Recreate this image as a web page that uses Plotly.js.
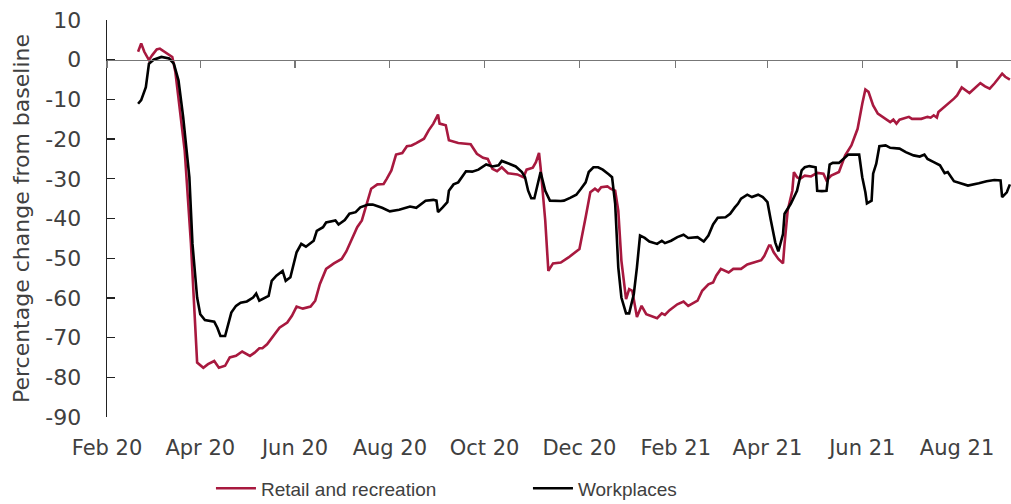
<!DOCTYPE html>
<html>
<head>
<meta charset="utf-8">
<script src="https://cdn.plot.ly/plotly-3.0.1.min.js"></script>
<style>
html,body{margin:0;padding:0;background:#fff;}
#chart{width:1011px;height:504px;}
</style>
</head>
<body>
<div id="chart"></div>
<script>
// ---- Data ----
const retailDates = ['2020-02-21','2020-02-23','2020-02-25','2020-02-28','2020-03-01','2020-03-04','2020-03-06','2020-03-09','2020-03-12','2020-03-14','2020-03-16','2020-03-19','2020-03-22','2020-03-26','2020-03-28','2020-03-30','2020-04-03','2020-04-06','2020-04-10','2020-04-13','2020-04-17','2020-04-20','2020-04-24','2020-04-28','2020-05-03','2020-05-06','2020-05-09','2020-05-11','2020-05-14','2020-05-18','2020-05-22','2020-05-27','2020-05-30','2020-06-02','2020-06-06','2020-06-11','2020-06-14','2020-06-17','2020-06-21','2020-06-26','2020-07-01','2020-07-04','2020-07-08','2020-07-11','2020-07-14','2020-07-17','2020-07-20','2020-07-24','2020-07-28','2020-07-30','2020-08-02','2020-08-05','2020-08-09','2020-08-12','2020-08-15','2020-08-18','2020-08-23','2020-08-26','2020-08-29','2020-09-01','2020-09-02','2020-09-06','2020-09-08','2020-09-14','2020-09-22','2020-09-26','2020-09-30','2020-10-03','2020-10-06','2020-10-09','2020-10-12','2020-10-16','2020-10-22','2020-10-26','2020-10-28','2020-11-01','2020-11-03','2020-11-05','2020-11-06','2020-11-09','2020-11-11','2020-11-14','2020-11-19','2020-11-24','2020-11-28','2020-12-01','2020-12-05','2020-12-08','2020-12-11','2020-12-13','2020-12-15','2020-12-19','2020-12-21','2020-12-24','2020-12-26','2020-12-28','2020-12-31','2021-01-02','2021-01-04','2021-01-06','2021-01-07','2021-01-10','2021-01-13','2021-01-20','2021-01-23','2021-01-25','2021-01-28','2021-02-02','2021-02-06','2021-02-09','2021-02-15','2021-02-18','2021-02-22','2021-02-25','2021-02-27','2021-03-02','2021-03-07','2021-03-10','2021-03-15','2021-03-19','2021-03-23','2021-03-28','2021-03-30','2021-04-02','2021-04-03','2021-04-05','2021-04-08','2021-04-11','2021-04-12','2021-04-14','2021-04-17','2021-04-18','2021-04-20','2021-04-22','2021-04-25','2021-04-29','2021-05-03','2021-05-07','2021-05-09','2021-05-12','2021-05-17','2021-05-21','2021-05-25','2021-05-29','2021-06-01','2021-06-03','2021-06-05','2021-06-08','2021-06-11','2021-06-16','2021-06-19','2021-06-21','2021-06-23','2021-06-25','2021-07-01','2021-07-03','2021-07-09','2021-07-13','2021-07-15','2021-07-17','2021-07-19','2021-07-20','2021-07-24','2021-07-30','2021-08-01','2021-08-04','2021-08-09','2021-08-16','2021-08-19','2021-08-22','2021-08-25','2021-08-30','2021-09-01','2021-09-04'];
const retailValues = [2.0,4.1,2.0,-0.1,1.1,2.6,2.8,2.0,1.1,0.7,-3.1,-12.8,-22.9,-46.3,-63.3,-76.3,-77.6,-76.7,-75.9,-77.6,-77.1,-75.0,-74.6,-73.5,-74.6,-73.8,-72.7,-72.7,-71.7,-69.6,-67.5,-66.2,-64.5,-62.2,-62.7,-62.2,-60.7,-56.5,-52.7,-51.3,-50.2,-48.3,-44.7,-42.2,-40.5,-36.3,-32.5,-31.4,-31.3,-30.0,-27.9,-23.9,-23.5,-21.8,-21.6,-21.0,-19.9,-17.8,-16.1,-13.8,-16.1,-16.5,-20.3,-21.0,-21.3,-23.7,-24.7,-25.0,-27.5,-28.1,-27.1,-28.6,-28.9,-29.6,-27.7,-27.2,-25.8,-23.5,-27.1,-40.5,-53.2,-51.3,-51.1,-49.8,-48.5,-47.7,-39.7,-33.4,-32.5,-33.1,-32.1,-31.9,-32.5,-33.0,-38.0,-50.6,-60.3,-57.8,-58.2,-63.3,-64.8,-62.0,-64.1,-65.1,-63.9,-64.3,-63.1,-61.6,-60.9,-62.0,-60.7,-58.2,-56.6,-56.1,-54.4,-52.7,-53.6,-52.7,-52.7,-51.6,-51.1,-50.5,-49.4,-46.8,-46.8,-48.5,-50.2,-51.3,-46.4,-38.0,-33.0,-28.3,-29.6,-30.0,-29.2,-29.4,-28.5,-28.7,-30.4,-29.2,-28.3,-24.1,-21.6,-17.4,-11.1,-7.5,-8.1,-11.5,-13.6,-14.9,-15.7,-15.1,-16.1,-15.1,-14.4,-14.9,-14.9,-14.4,-14.6,-14.0,-14.6,-13.2,-11.9,-9.8,-9.0,-7.0,-8.4,-5.9,-6.7,-7.3,-6.0,-3.5,-4.3,-5.0];

const workDates = ['2020-02-21','2020-02-23','2020-02-26','2020-02-28','2020-03-02','2020-03-07','2020-03-12','2020-03-15','2020-03-18','2020-03-21','2020-03-25','2020-03-27','2020-03-30','2020-04-01','2020-04-04','2020-04-10','2020-04-12','2020-04-14','2020-04-17','2020-04-21','2020-04-24','2020-04-27','2020-05-01','2020-05-05','2020-05-07','2020-05-09','2020-05-15','2020-05-17','2020-05-20','2020-05-24','2020-05-26','2020-05-29','2020-06-02','2020-06-05','2020-06-08','2020-06-13','2020-06-15','2020-06-19','2020-06-21','2020-06-27','2020-06-29','2020-07-03','2020-07-06','2020-07-10','2020-07-13','2020-07-18','2020-07-21','2020-07-27','2020-08-01','2020-08-07','2020-08-14','2020-08-18','2020-08-24','2020-08-29','2020-08-31','2020-09-01','2020-09-04','2020-09-07','2020-09-08','2020-09-11','2020-09-14','2020-09-19','2020-09-23','2020-09-27','2020-10-02','2020-10-06','2020-10-10','2020-10-12','2020-10-16','2020-10-21','2020-10-25','2020-10-27','2020-10-29','2020-10-31','2020-11-02','2020-11-04','2020-11-06','2020-11-09','2020-11-12','2020-11-19','2020-11-21','2020-11-25','2020-11-29','2020-12-02','2020-12-05','2020-12-07','2020-12-10','2020-12-13','2020-12-16','2020-12-20','2020-12-22','2020-12-24','2020-12-26','2020-12-28','2020-12-31','2021-01-02','2021-01-03','2021-01-05','2021-01-07','2021-01-09','2021-01-12','2021-01-15','2021-01-20','2021-01-23','2021-01-25','2021-01-29','2021-02-02','2021-02-06','2021-02-09','2021-02-15','2021-02-19','2021-02-22','2021-02-25','2021-02-28','2021-03-05','2021-03-08','2021-03-11','2021-03-13','2021-03-15','2021-03-19','2021-03-22','2021-03-26','2021-03-29','2021-04-01','2021-04-03','2021-04-04','2021-04-06','2021-04-08','2021-04-10','2021-04-11','2021-04-12','2021-04-16','2021-04-20','2021-04-23','2021-04-25','2021-04-28','2021-05-02','2021-05-03','2021-05-06','2021-05-09','2021-05-11','2021-05-13','2021-05-17','2021-05-21','2021-05-23','2021-05-30','2021-06-01','2021-06-03','2021-06-04','2021-06-07','2021-06-08','2021-06-10','2021-06-12','2021-06-16','2021-06-19','2021-06-25','2021-06-29','2021-07-04','2021-07-08','2021-07-11','2021-07-13','2021-07-17','2021-07-21','2021-07-24','2021-07-26','2021-07-30','2021-08-03','2021-08-08','2021-08-15','2021-08-20','2021-08-25','2021-08-29','2021-08-30','2021-09-02','2021-09-04'];
const workValues = [-11.1,-10.2,-6.9,-1.0,0.0,0.7,0.3,-1.0,-5.2,-14.4,-29.6,-46.4,-59.9,-64.1,-65.6,-66.0,-67.5,-69.6,-69.6,-63.7,-62.0,-61.2,-60.9,-59.9,-58.9,-60.7,-59.5,-55.7,-54.4,-53.2,-55.7,-54.8,-48.5,-46.4,-47.1,-45.6,-43.1,-42.2,-41.0,-40.5,-41.5,-40.4,-38.8,-38.4,-37.2,-36.5,-36.5,-37.3,-38.2,-37.8,-37.0,-37.3,-35.5,-35.3,-35.5,-38.4,-37.2,-35.9,-33.0,-31.4,-30.9,-28.1,-28.2,-27.7,-26.4,-26.9,-26.6,-25.5,-26.1,-26.9,-28.3,-29.6,-33.0,-34.9,-34.9,-31.3,-28.3,-33.0,-35.5,-35.6,-35.5,-34.8,-34.0,-32.5,-30.9,-28.3,-27.1,-27.1,-27.7,-28.9,-29.6,-36.3,-52.3,-59.9,-63.9,-63.9,-62.0,-59.0,-52.3,-44.3,-44.9,-45.8,-46.4,-45.6,-46.2,-45.6,-44.7,-44.1,-44.9,-44.7,-45.8,-44.3,-41.5,-39.8,-39.7,-38.8,-37.2,-36.3,-35.0,-34.0,-34.6,-34.0,-34.6,-35.9,-40.1,-41.8,-46.0,-48.3,-45.6,-43.9,-38.8,-36.3,-33.0,-27.9,-27.1,-26.8,-27.1,-33.0,-33.1,-33.0,-26.4,-26.0,-26.0,-24.5,-23.9,-23.9,-29.6,-33.4,-36.2,-35.5,-28.7,-26.2,-21.8,-21.6,-22.2,-22.4,-23.3,-24.1,-24.4,-23.9,-25.0,-25.8,-26.6,-28.6,-28.3,-30.6,-31.1,-31.7,-31.1,-30.6,-30.3,-30.4,-34.6,-33.4,-31.4];

const tickDates = ['2020-02-01','2020-04-01','2020-06-01','2020-08-01','2020-10-01','2020-12-01','2021-02-01','2021-04-01','2021-06-01','2021-08-01'];
const tickLabels = ['Feb 20','Apr 20','Jun 20','Aug 20','Oct 20','Dec 20','Feb 21','Apr 21','Jun 21','Aug 21'];
const yTickVals = [10,0,-10,-20,-30,-40,-50,-60,-70,-80,-90];
const yTickLabels = ['10','0','-10','-20','-30','-40','-50','-60','-70','-80','-90'];
const seriesNames = ['Retail and recreation','Workplaces'];
const seriesColors = ['#A8193F','#000000'];

const FONT = 'DejaVu Sans, sans-serif';
const LFONT = 'Liberation Sans, Arial, sans-serif';
const TXT = '#404040';
const xRange = ['2020-02-01','2021-09-04 17:00'];

const traces = [
  {x: retailDates, y: retailValues, name: seriesNames[0], type: 'scatter', mode: 'lines',
   line: {color: seriesColors[0], width: 2.6}},
  {x: workDates, y: workValues, name: seriesNames[1], type: 'scatter', mode: 'lines',
   line: {color: seriesColors[1], width: 2.6}},
  {x: [tickDates[0]], y: [0], xaxis: 'x2', yaxis: 'y', mode: 'markers', showlegend: false,
   hoverinfo: 'skip', marker: {opacity: 0}}
];

const layout = {
  width: 1011, height: 504,
  margin: {l: 107, r: 0, t: 20, b: 87, autoexpand: false},
  paper_bgcolor: '#fff', plot_bgcolor: '#fff',
  font: {family: FONT, color: TXT},
  showlegend: true,
  legend: {orientation: 'h', x: 0.115, xanchor: 'left', y: -0.18, yanchor: 'middle',
           font: {size: 19, color: TXT, family: LFONT}, entrywidth: 262, entrywidthmode: 'pixels',
           itemwidth: 40, traceorder: 'normal'},
  xaxis: {type: 'date', range: xRange, tickvals: tickDates, ticktext: tickLabels,
          showgrid: false, zeroline: false, showline: false, ticks: '', automargin: false,
          ticklabelstandoff: 16,
          tickfont: {size: 21, color: TXT, family: FONT}},
  xaxis2: {type: 'date', range: xRange, tickvals: tickDates, overlaying: 'x', anchor: 'free',
           position: 0.9, showgrid: false, zeroline: false, showline: true, linecolor: '#777',
           linewidth: 1.3, ticks: 'outside', ticklen: 7, tickwidth: 1.3, tickcolor: '#777',
           showticklabels: false},
  yaxis: {range: [-90, 10], tickvals: yTickVals, ticktext: yTickLabels, automargin: false,
          showgrid: false, zeroline: false, showline: true, linecolor: '#222', linewidth: 1.3,
          ticks: 'inside', ticklen: 8, tickwidth: 1.3, tickcolor: '#222',
          ticklabelstandoff: 20,
          tickfont: {size: 22, color: TXT, family: FONT},
          title: {text: 'Percentage change from baseline', standoff: 9,
                  font: {size: 22, color: TXT, family: FONT}}}
};

Plotly.newPlot('chart', traces, layout, {staticPlot: true, displayModeBar: false});
</script>
</body>
</html>
